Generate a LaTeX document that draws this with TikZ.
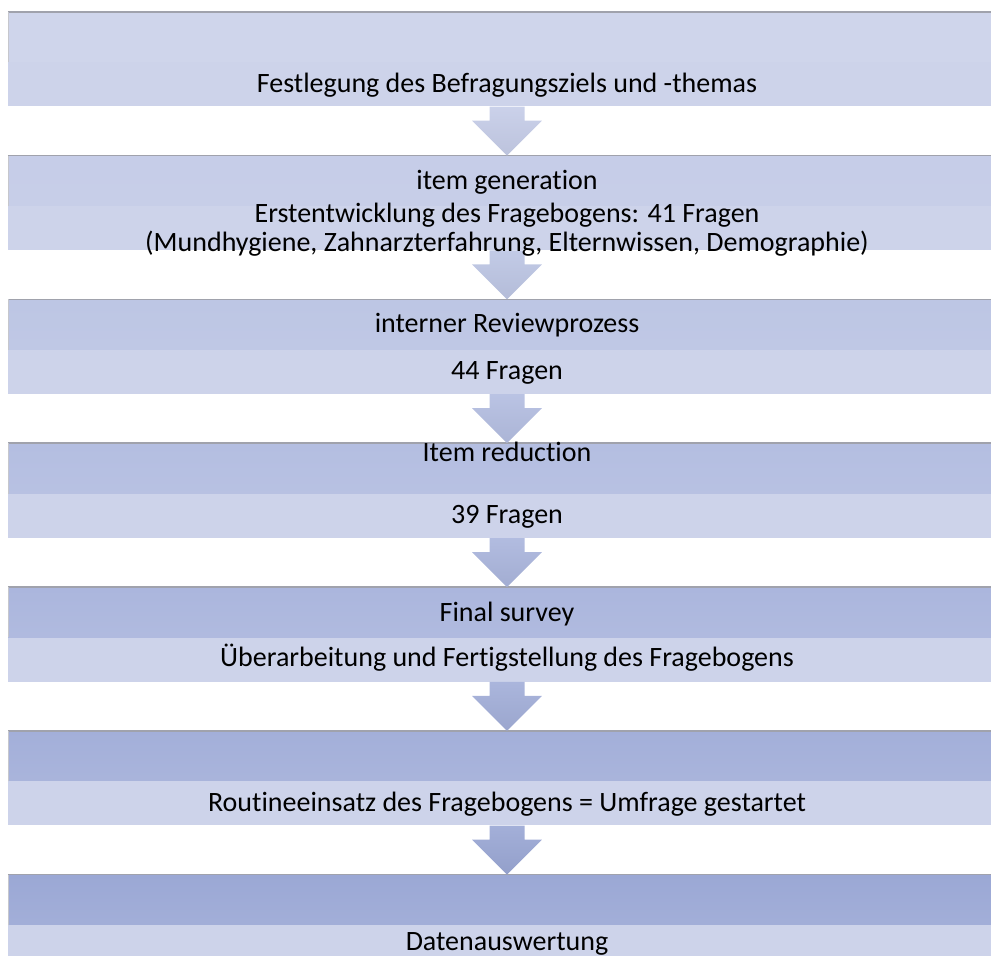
\documentclass[tikz,border=0pt]{standalone}
\usepackage{fontspec}
\setmainfont{Carlito}[Ligatures=NoCommon]
\usetikzlibrary{positioning, calc}
\definecolor{bandlow}{RGB}{205, 211, 234}
\definecolor{edgegray}{RGB}{160, 162, 172}
\definecolor{bandA}{RGB}{207, 213, 235}
\definecolor{bandB}{RGB}{198, 205, 232}
\definecolor{bandC}{RGB}{189, 198, 228}
\definecolor{bandD}{RGB}{180, 190, 225}
\definecolor{bandE}{RGB}{171, 182, 221}
\definecolor{bandF}{RGB}{163, 175, 217}
\definecolor{bandG}{RGB}{155, 168, 213}
\tikzset{
    every node/.style={font=\fontsize{28}{31}\selectfont, inner sep=0pt},
    topband/.style={rectangle, minimum width=998pt, minimum height=50pt,
        top color=#1, bottom color=#1!85!bandlow},
    lowband/.style={rectangle, minimum width=998pt, minimum height=44pt,
        fill=bandlow},
    steptext/.style={anchor=base},
    edgeline/.style={draw=edgegray, line width=1.5pt},
}
% block arrow from the foot of one step to the head of the next
\newcommand{\flowarrow}[3]{%
    \shade[top color=#3!92!white, bottom color=#3!95!black]
        ($(#1.south)+(-17.5,0)$) -- ($(#1.south)+(17.5,0)$)
        -- ($(#2.north)+(17.5,-35)$) -- ($(#2.north)+(35,-35)$)
        -- (#2.north) -- ($(#2.north)+(-35,-35)$)
        -- ($(#2.north)+(-17.5,-35)$) -- cycle;
}

\begin{document}
\begin{tikzpicture}[x=1pt, y=-1pt]
        \useasboundingbox (0, 0) rectangle (991, 956);

        % the seven steps, each a darker upper band over a light lower band
        \node[topband=bandA] (ziel) at (507, 37) {};
        \node[lowband, below=0pt of ziel] (ziel-low) {};
        \node[topband=bandB, below=49pt of ziel-low] (gen) {};
        \node[lowband, below=0pt of gen] (gen-low) {};
        \node[topband=bandC, below=49pt of gen-low] (review) {};
        \node[lowband, below=0pt of review] (review-low) {};
        \node[topband=bandD, below=49pt of review-low] (reduct) {};
        \node[lowband, below=0pt of reduct] (reduct-low) {};
        \node[topband=bandE, below=49pt of reduct-low] (final) {};
        \node[lowband, below=0pt of final] (final-low) {};
        \node[topband=bandF, below=49pt of final-low] (routine) {};
        \node[lowband, below=0pt of routine] (routine-low) {};
        \node[topband=bandG, below=49pt of routine-low] (auswert) {};
        \node[lowband, below=0pt of auswert] (auswert-low) {};

        \foreach \step in {ziel, gen, review, reduct, final, routine, auswert}{
            \draw[edgeline] (\step.north west) -- (\step.north east);
            \draw[edgegray!60, line width=.6pt] (\step.south west)
                -- (\step.north west);
        }

        \flowarrow{ziel-low}{gen}{bandB}
        \flowarrow{gen-low}{review}{bandC}
        \flowarrow{review-low}{reduct}{bandD}
        \flowarrow{reduct-low}{final}{bandE}
        \flowarrow{final-low}{routine}{bandF}
        \flowarrow{routine-low}{auswert}{bandG}

        \node[steptext] (ziel-txt) at ($(ziel-low.center)+(0, 8)$)
            {Festlegung des Befragungsziels und -themas};
        \node[steptext] (gen-txt) at ($(gen.center)+(0, 9)$)
            {item generation};
        \node[steptext] (gen-txt2) at ($(gen-low.north)+(0, 16)$)
            {Erstentwicklung des Fragebogens: 41 Fragen};
        \node[steptext] (gen-txt3) at ($(gen-low.north)+(0, 45)$)
            {(Mundhygiene, Zahnarzterfahrung, Elternwissen, Demographie)};
        \node[steptext] (review-txt) at ($(review.center)+(0, 8)$)
            {interner Reviewprozess};
        \node[steptext] (review-txt2) at ($(review-low.center)+(0, 7)$)
            {44 Fragen};
        \node[steptext] (reduct-txt) at ($(reduct.center)+(0, -7)$)
            {Item reduction};
        \node[steptext] (reduct-txt2) at ($(reduct-low.center)+(0, 8)$)
            {39 Fragen};
        \node[steptext] (final-txt) at ($(final.center)+(0, 9)$)
            {Final survey};
        \node[steptext] (final-txt2) at ($(final-low.center)+(0, 7)$)
            {Überarbeitung und Fertigstellung des Fragebogens};
        \node[steptext] (routine-txt) at ($(routine-low.center)+(0, 8)$)
            {Routineeinsatz des Fragebogens = Umfrage gestartet};
        \node[steptext] (auswert-txt) at ($(auswert-low.center)+(0, 3)$)
            {Datenauswertung};
    \end{tikzpicture}
\end{document}
